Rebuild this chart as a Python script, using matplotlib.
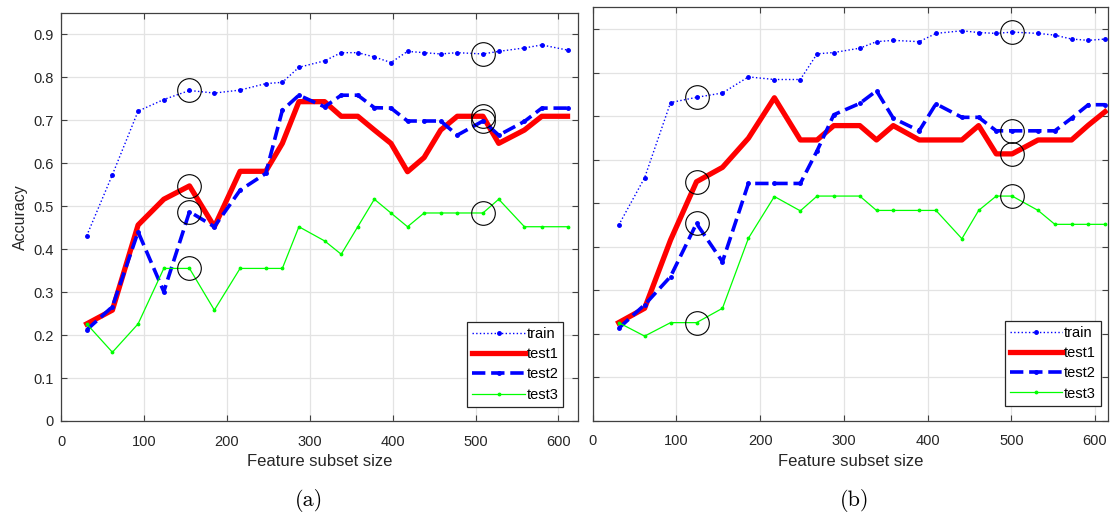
import matplotlib
matplotlib.use("Agg")
import matplotlib.pyplot as plt
from matplotlib.ticker import FuncFormatter

plt.rcParams['font.family'] = ['Liberation Sans', 'DejaVu Sans']

# ---- data, panel (a) ----
xa = [31, 62, 93, 124, 155, 185, 216, 247, 267, 287, 318, 338, 358, 378,
      398, 418, 438, 458, 478, 509, 528, 559, 580, 611]
train_a = [0.431, 0.573, 0.721, 0.748, 0.769, 0.763, 0.770, 0.785, 0.788, 0.823,
           0.838, 0.857, 0.857, 0.847, 0.834, 0.860, 0.857, 0.854, 0.857, 0.854,
           0.860, 0.868, 0.875, 0.863]
test1_a = [0.226, 0.258, 0.456, 0.516, 0.547, 0.452, 0.581, 0.581, 0.646, 0.743,
           0.743, 0.709, 0.709, 0.677, 0.646, 0.580, 0.613, 0.677, 0.709, 0.709,
           0.646, 0.677, 0.709, 0.709]
test2_a = [0.212, 0.266, 0.440, 0.301, 0.487, 0.452, 0.537, 0.576, 0.723, 0.758,
           0.731, 0.758, 0.758, 0.729, 0.728, 0.698, 0.698, 0.698, 0.665, 0.698,
           0.665, 0.697, 0.728, 0.728]
test3_a = [0.226, 0.160, 0.226, 0.355, 0.355, 0.258, 0.355, 0.355, 0.355, 0.452,
           0.419, 0.388, 0.452, 0.516, 0.484, 0.452, 0.484, 0.484, 0.484, 0.484,
           0.516, 0.452, 0.452, 0.452]
marked_a = [4, 19]   # indices circled on every curve

# ---- data, panel (b) ----
xb = [31, 62, 93, 124, 155, 186, 217, 248, 268, 288, 319, 339, 359, 390,
      410, 441, 461, 482, 501, 532, 552, 572, 592, 612]
train_b = [0.449, 0.558, 0.731, 0.743, 0.753, 0.790, 0.784, 0.784, 0.843, 0.846,
           0.856, 0.871, 0.874, 0.871, 0.890, 0.896, 0.892, 0.890, 0.893, 0.890,
           0.886, 0.877, 0.874, 0.877]
test1_b = [0.225, 0.258, 0.415, 0.549, 0.582, 0.649, 0.742, 0.645, 0.645, 0.678,
           0.678, 0.645, 0.678, 0.645, 0.645, 0.645, 0.678, 0.613, 0.613, 0.645,
           0.645, 0.645, 0.679, 0.710]
test2_b = [0.212, 0.266, 0.331, 0.453, 0.365, 0.545, 0.545, 0.545, 0.620, 0.703,
           0.729, 0.758, 0.695, 0.666, 0.728, 0.697, 0.697, 0.666, 0.666, 0.666,
           0.666, 0.695, 0.726, 0.726]
test3_b = [0.225, 0.194, 0.225, 0.225, 0.258, 0.419, 0.515, 0.482, 0.516, 0.516,
           0.516, 0.483, 0.483, 0.483, 0.483, 0.418, 0.483, 0.516, 0.516, 0.483,
           0.451, 0.451, 0.451, 0.451]
marked_b = [3, 18]

labels = ['train', 'test1', 'test2', 'test3']
yticks = [0, 0.1, 0.2, 0.3, 0.4, 0.5, 0.6, 0.7, 0.8, 0.9]
xticks = [0, 100, 200, 300, 400, 500, 600]

axis_col = '#404040'


def draw_panel(ax, x, train, test1, test2, test3, marked, xmax, legend_xy, show_ylabels):
    ax.plot(x, train, color='#0000ff', linestyle=':', linewidth=1.0,
            marker='.', markersize=5, label=labels[0])
    ax.plot(x, test1, color='#ff0000', linestyle='-', linewidth=3.8, label=labels[1])
    ax.plot(x, test2, color='#0000ff', linestyle='--', linewidth=2.6,
            marker='.', markersize=5, label=labels[2])
    ax.plot(x, test3, color='#00ff00', linestyle='-', linewidth=0.9,
            marker='.', markersize=3.5, label=labels[3])

    # circle the selected subset sizes on each curve
    for i in marked:
        for series in (train, test1, test2, test3):
            ax.plot(x[i], series[i], marker='o', markersize=17, markerfacecolor='none',
                    markeredgecolor='black', markeredgewidth=0.8, zorder=5)

    ax.set_xlim(0, xmax)
    ax.set_ylim(0, 0.95)
    ax.set_xticks(xticks)
    ax.set_yticks(yticks)
    ax.yaxis.set_major_formatter(FuncFormatter(lambda v, p: '%g' % v))
    if not show_ylabels:
        ax.set_yticklabels([])
    ax.grid(True, color='#e3e3e3', linewidth=0.9)
    ax.set_axisbelow(True)
    ax.tick_params(direction='in', length=4, width=0.8, colors=axis_col,
                   labelcolor='#262626', labelsize=10.5, top=True, right=True, pad=5)
    ax.tick_params(axis='x', pad=10)
    for s in ax.spines.values():
        s.set_color(axis_col)
        s.set_linewidth(0.9)
    ax.set_xlabel('Feature subset size', fontsize=12, color='#262626', labelpad=4)

    leg = ax.legend(loc='lower right', bbox_to_anchor=legend_xy, borderaxespad=0,
                    fontsize=10.5, fancybox=False, framealpha=1, edgecolor='#262626',
                    handlelength=3.6, labelspacing=0.42, handletextpad=0.1,
                    borderpad=0.35)
    leg.get_frame().set_linewidth(0.9)


fig = plt.figure(figsize=(11.1, 5.2), dpi=100)
ax1 = fig.add_axes([61 / 1110, 99 / 520, 517.3 / 1110, 408.3 / 520])
ax2 = fig.add_axes([592.7 / 1110, 99.5 / 520, 515.3 / 1110, 413.2 / 520])

draw_panel(ax1, xa, train_a, test1_a, test2_a, test3_a, marked_a, 624,
           (0.971, 0.035), True)
draw_panel(ax2, xb, train_b, test1_b, test2_b, test3_b, marked_b, 615.5,
           (0.986, 0.036), False)
ax1.set_ylabel('Accuracy', fontsize=11.5, color='#262626', labelpad=4)

fig.text(308.7 / 1110, 19 / 520, '(a)', family='cmr10', fontsize=16,
         ha='center', va='center')
fig.text(855 / 1110, 19 / 520, '(b)', family='cmr10', fontsize=16,
         ha='center', va='center')

fig.savefig('out.png', dpi=100)
